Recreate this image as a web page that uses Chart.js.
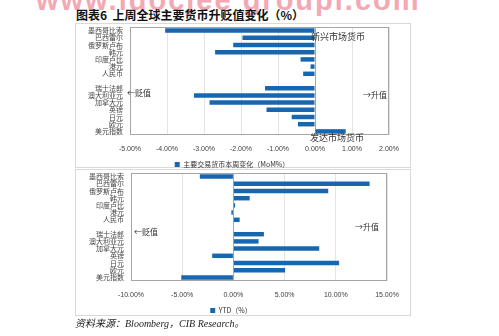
<!DOCTYPE html>
<html>
<head>
<meta charset="utf-8">
<script src="https://cdn.jsdelivr.net/npm/chart.js@4/dist/chart.umd.min.js"></script>
<style>
  body { margin: 0; width: 499px; height: 336px; background: #fff; position: relative; overflow: hidden;
         font-family: "Noto Sans CJK SC", sans-serif; color: #222; }
  .abs { position: absolute; white-space: nowrap; }
  .frame { position: absolute; border: 1px solid #d9d9d9; box-sizing: border-box; }
  .note { position: absolute; white-space: nowrap; font-size: 8px; line-height: 8px; color: #333; }
  canvas { position: absolute; }
</style>
</head>
<body>

<div class="abs" style="left:36px;top:-16px;font:bold 29px 'Liberation Sans';color:#f3a9b3;letter-spacing:2px;">www.idocjee groupi.com</div>
<div class="abs" style="left:76px;top:7px;font-weight:bold;font-size:12px;line-height:16px;color:#111;">图表6&nbsp;&nbsp;上周全球主要货币升贬值变化（%）</div>

<div class="frame" style="left:75px;top:23px;width:336px;height:145px;"></div>
<div class="frame" style="left:75px;top:169px;width:336px;height:147px;"></div>

<canvas id="weekChart" width="335" height="155" style="left:75px;top:23px;"></canvas>
<canvas id="ytdChart" width="335" height="155" style="left:75px;top:169px;"></canvas>

<div class="note" style="left:311px;top:32px;font-size:9px;line-height:9px;">新兴市场货币</div>
<div class="note" style="left:310px;top:133px;font-size:9px;line-height:9px;">发达市场货币</div>
<div class="note" style="left:127px;top:89px;">←贬值</div>
<div class="note" style="left:363px;top:91px;">→升值</div>
<div class="note" style="left:134px;top:228px;">←贬值</div>
<div class="note" style="left:355px;top:223px;">→升值</div>

<div class="abs" style="left:75px;top:317px;font-size:10px;line-height:14px;font-style:italic;font-family:'Liberation Serif','Noto Sans CJK SC',serif;color:#222;">资料来源：Bloomberg，CIB Research。</div>

<script>
// currencies, emerging first, a blank row, then developed
const currencies = ['墨西哥比索', '巴西雷尔', '俄罗斯卢布', '韩元', '印度卢比', '港元', '人民币', '',
                    '瑞士法郎', '澳大利亚元', '加拿大元', '英镑', '日元', '欧元', '美元指数'];
// weekly change, %
const weeklyChange = [-4.05, -1.96, -2.21, -2.70, -0.39, -0.12, -0.32, null,
                      -1.35, -3.27, -2.85, -1.31, -0.63, -0.46, 0.83];
// year to date change, %
const ytdChange = [-3.28, 13.30, 9.26, 1.59, 0.16, -0.20, 0.61, null,
                   2.98, 2.46, 8.38, -2.07, 10.32, 5.05, -5.09];
const weeklyTicks = [-5, -4, -3, -2, -1, 0, 1, 2];
const ytdTicks = [-10, -5, 0, 5, 10, 15];

const barBlue = '#1767b0';

// gray box round the plot area
const plotFrame = {
  id: 'plotFrame',
  beforeDatasetsDraw(chart) {
    const { ctx, chartArea: a } = chart;
    ctx.save();
    ctx.strokeStyle = '#a6a6a6';
    ctx.lineWidth = 1;
    ctx.strokeRect(Math.round(a.left) + 0.5, Math.round(a.top) + 0.5,
                   Math.round(a.width) - 1, Math.round(a.height) - 1);
    ctx.restore();
  }
};

function barChart(id, values, ticks, legendText, yWidth, padRight) {
  return new Chart(document.getElementById(id), {
    type: 'bar',
    data: {
      labels: currencies,
      datasets: [{
        label: legendText,
        data: values,
        backgroundColor: barBlue,
        barPercentage: 0.62,
        categoryPercentage: 1
      }]
    },
    options: {
      indexAxis: 'y',
      responsive: false,
      animation: false,
      devicePixelRatio: 1,
      layout: { padding: { left: 0, right: padRight, top: 4, bottom: 0 } },
      plugins: {
        tooltip: { enabled: false },
        legend: {
          position: 'bottom',
          labels: {
            boxWidth: 5, boxHeight: 5, padding: 2,
            color: '#333',
            font: { size: 7, family: '"Noto Sans CJK SC", sans-serif' }
          }
        }
      },
      scales: {
        x: {
          min: ticks[0], max: ticks[ticks.length - 1],
          afterBuildTicks: s => { s.ticks = ticks.map(v => ({ value: v })); },
          afterFit: s => { s.height = 24; s.paddingLeft = 0; s.paddingRight = 0; },
          grid: {
            drawTicks: false,
            color: c => c.tick && c.tick.value === 0 ? '#a6a6a6' : '#e3e3e3'
          },
          border: { display: false },
          ticks: {
            padding: 10,
            color: '#404040',
            font: { size: 7, family: '"Liberation Sans", sans-serif' },
            callback: v => v.toFixed(2) + '%'
          }
        },
        y: {
          // keep the plot top from being pushed down by label padding
          afterFit: s => { s.width = yWidth; s.paddingTop = 0; s.paddingBottom = 0; },
          grid: { display: false, drawTicks: false },
          border: { display: false },
          ticks: {
            padding: 7,
            autoSkip: false,
            color: '#444',
            font: { size: 7, family: '"Noto Sans CJK SC", sans-serif' }
          }
        }
      }
    },
    plugins: [plotFrame]
  });
}

barChart('weekChart', weeklyChange, weeklyTicks, '主要交易货币本周变化（MoM%）', 55, 21);
barChart('ytdChart', ytdChange, ytdTicks, 'YTD（%）', 56, 23);
</script>
</body>
</html>
